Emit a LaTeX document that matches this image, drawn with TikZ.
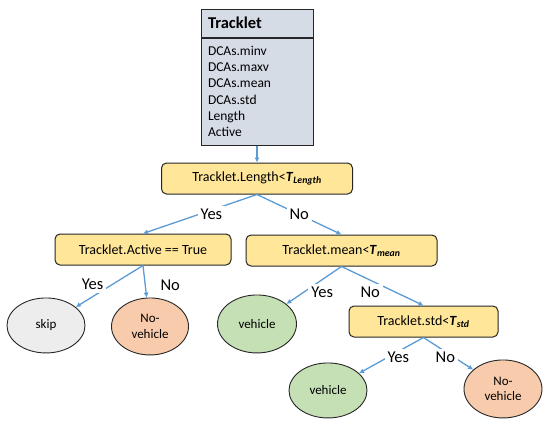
\documentclass[tikz,border=0pt]{standalone}
\usepackage{fontspec}
\setmainfont{Carlito}
\usepackage{tikz}
\usetikzlibrary{positioning}
\usetikzlibrary{shapes.geometric}
\usetikzlibrary{arrows.meta}

\definecolor{boxgray}{HTML}{D6DCE5}
\definecolor{testyellow}{HTML}{FFE699}
\definecolor{skipgray}{HTML}{EDEDED}
\definecolor{novehred}{HTML}{F8CBAD}
\definecolor{vehgreen}{HTML}{C5E0B4}
\definecolor{linkblue}{HTML}{5B9BD5}
\definecolor{edgegray}{HTML}{262626}

\tikzset{
  classhead/.style={draw=edgegray, line width=1pt, fill=boxgray, text width=98pt, inner xsep=7pt, align=left, minimum height=28pt, font=\fontsize{16.5}{19}\selectfont\bfseries},
  classbody/.style={draw=edgegray, line width=1pt, fill=boxgray, text width=98pt, inner xsep=7pt, align=left, minimum height=107pt, font=\fontsize{13.5}{16.2}\selectfont},
  test/.style={draw=edgegray, line width=1pt, fill=testyellow, rounded corners=5pt, minimum height=31pt, font=\fontsize{14}{17}\selectfont},
  leaf/.style={ellipse, draw=edgegray, line width=0.9pt, minimum width=78pt, minimum height=56pt, inner sep=1pt, align=center, font=\fontsize{13}{15.5}\selectfont},
  link/.style={draw=linkblue, line width=1.3pt, -{Latex[length=5pt,width=5pt]}},
  answer/.style={fill=white, inner sep=3pt, font=\fontsize{16.5}{19}\selectfont}
}
\newcommand{\thr}[1]{\textbf{\textit{T}}\textsubscript{\textbf{\textit{#1}}}}

\begin{document}
\begin{tikzpicture}

  \useasboundingbox (0pt,0pt) rectangle (550pt,-424pt);

  % Define nodes
  \node[classhead] (tracklet) at (257pt,-23pt) {Tracklet};
  \node[classbody, below=0pt of tracklet] (attrs) {DCAs.minv\\DCAs.maxv\\DCAs.mean\\DCAs.std\\Length\\Active};
  \node[test, minimum width=191pt, below=17pt of attrs] (length) {Tracklet.Length<\thr{Length}};
  \node[test, minimum width=176pt, below=39pt of length, xshift=-114pt] (active) {Tracklet.Active == True};
  \node[test, minimum width=191pt, below=40pt of length, xshift=84.5pt] (mean) {Tracklet.mean<\thr{mean}};
  \node[test, minimum width=149pt, below=39pt of mean, xshift=82pt] (std) {Tracklet.std<\thr{std}};
  \node[leaf, fill=skipgray, below=32pt of active, xshift=-97pt, minimum height=55pt] (skip) {skip};
  \node[leaf, fill=novehred, below=32pt of active, xshift=7pt, minimum width=77pt, minimum height=57pt] (novehA) {No-\\vehicle};
  \node[leaf, fill=vehgreen, below=28pt of mean, xshift=-84.5pt, minimum width=79pt, minimum height=58pt] (vehA) {vehicle};
  \node[leaf, fill=vehgreen, below=25pt of std, xshift=-95.5pt, minimum height=55pt] (vehB) {vehicle};
  \node[leaf, fill=novehred, below=22pt of std, xshift=79.5pt, minimum height=58pt] (novehB) {No-\\vehicle};

  % Connect the nodes
  \draw[link] (attrs) -- (length) ; %
  \draw[link] (length.south) -- node[answer, pos=.4, yshift=-4pt] {Yes} (active.north) ; %
  \draw[link] (length.south) -- node[answer, pos=.5] {No} (mean.north) ; %
  \draw[link] (active.south) -- node[answer, pos=.75, yshift=12pt] {Yes} (skip) ; %
  \draw[link] (active.south) -- node[answer, pos=.6, xshift=25pt] {No} (novehA) ; %
  \draw[link] (mean.south) -- node[answer, pos=.35, yshift=-12.8pt] {Yes} (vehA) ; %
  \draw[link] (mean.south) -- node[answer, pos=.35, yshift=-12.2pt] {No} (std.north) ; %
  \draw[link] (std.south) -- node[answer, pos=.39, yshift=-6pt] {Yes} (vehB) ; %
  \draw[link] (std.south) -- node[answer, pos=.44, yshift=-6pt] {No} (novehB) ; %

\end{tikzpicture}
\end{document}
